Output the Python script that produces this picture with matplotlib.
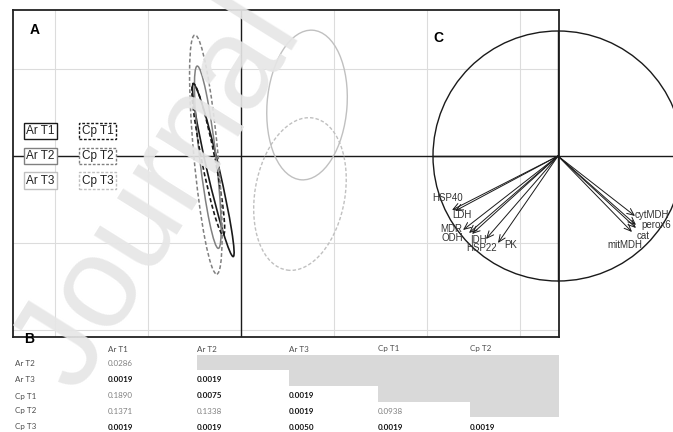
import matplotlib
matplotlib.use("Agg")
import matplotlib.pyplot as plt
from matplotlib.patches import Ellipse, Circle, Rectangle

W, H = 673, 432

# --- Panel A: group ellipses (centre x, centre y, semi-major, semi-minor, tilt deg)
groups = ["Ar T1", "Ar T2", "Ar T3", "Cp T1", "Cp T2", "Cp T3"]
centre_x = [-0.298, -0.357, 0.710, -0.352, -0.378, 0.634]
centre_y = [-0.164, -0.014, 0.586, -0.037, 0.017, -0.437]
semi_major = [1.015, 1.054, 0.862, 0.886, 1.379, 0.885]
semi_minor = [0.066, 0.088, 0.430, 0.072, 0.130, 0.484]
tilt = [12.2, 6.2, -4.0, 10.5, 4.9, -9.0]

# --- Panel C: correlation circle
variables = ["HSP40", "LDH", "MDR", "ODH", "HSP22", "IDH", "PK",
             "cytMDH", "perox6", "cat", "mitMDH"]
load_x = [-0.848, -0.824, -0.760, -0.712, -0.688, -0.576, -0.480,
          0.616, 0.624, 0.624, 0.592]
load_y = [-0.432, -0.440, -0.592, -0.616, -0.624, -0.664, -0.696,
          -0.480, -0.552, -0.576, -0.608]

# --- Panel B: pairwise p-values (lower triangle)
row_names = ["Ar T2", "Ar T3", "Cp T1", "Cp T2", "Cp T3"]
col_names = ["Ar T1", "Ar T2", "Ar T3", "Cp T1", "Cp T2"]
p_values = [
    [0.0286],
    [0.0019, 0.0019],
    [0.1890, 0.0075, 0.0019],
    [0.1371, 0.1338, 0.0019, 0.0938],
    [0.0019, 0.0019, 0.0050, 0.0019, 0.0019],
]
alpha_level = 0.01

colours = ["#1a1a1a", "#808080", "#c0c0c0", "#1a1a1a", "#808080", "#c0c0c0"]
styles = ["-", "-", "-", (0, (2.5, 1.5)), (0, (2.5, 1.5)), (0, (2.5, 1.5))]
widths = [1.2, 1.1, 1.0, 1.2, 1.1, 1.0]

plt.rcParams["font.family"] = ["Liberation Sans", "DejaVu Sans"]


def px_box(x0, y0, x1, y1):
    return [x0 / W, 1 - y1 / H, (x1 - x0) / W, (y1 - y0) / H]


fig = plt.figure(figsize=(W / 100, H / 100), dpi=100)

# ---------------- A ----------------
ax = fig.add_axes(px_box(13, 10, 559, 337))
ax.set_xlim((13 - 241) / 93, (559 - 241) / 93)
ax.set_ylim((156 - 337) / 87, (156 - 10) / 87)
ax.set_xticks([-2, -1, 0, 1, 2, 3])
ax.set_yticks([-2, -1, 0, 1])
ax.grid(True, color="#dcdcdc", lw=0.8)
ax.tick_params(length=0, labelbottom=False, labelleft=False)
for sp in ax.spines.values():
    sp.set_color("#222222")
    sp.set_linewidth(1.3)
ax.axhline(0, color="#1a1a1a", lw=1.0, zorder=2)
ax.axvline(0, color="#1a1a1a", lw=1.0, zorder=2)

for i, g in enumerate(groups):
    ax.add_patch(Ellipse((centre_x[i], centre_y[i]), 2 * semi_minor[i], 2 * semi_major[i],
                         angle=tilt[i], fill=False, edgecolor=colours[i],
                         linestyle=styles[i], lw=widths[i], zorder=3))

# legend boxes
legend_x = [-2.16, -2.16, -2.16, -1.543, -1.543, -1.543]
legend_y = [0.287, 0.0, -0.282, 0.287, 0.0, -0.282]
for i, g in enumerate(groups):
    ax.text(legend_x[i], legend_y[i], g, ha="center", va="center", fontsize=8.5,
            color="#222222", zorder=5,
            bbox=dict(boxstyle="square,pad=0.2", fc="white", ec=colours[i],
                      lw=1.0, linestyle="-" if i < 3 else (0, (2, 1.2))))

# ---------------- C ----------------
axc = fig.add_axes(px_box(433, 31, 683, 281))
axc.set_xlim(-1, 1)
axc.set_ylim(-1, 1)
axc.axis("off")
axc.patch.set_alpha(0)
axc.add_patch(Circle((0, 0), 1, fill=False, edgecolor="#1a1a1a", lw=1.0, clip_on=False))
axc.plot([-1, 1], [0, 0], color="#1a1a1a", lw=1.0, clip_on=False)
axc.plot([0, 0], [-1, 1], color="#1a1a1a", lw=1.0, clip_on=False)
for vx, vy in zip(load_x, load_y):
    axc.annotate("", xy=(vx, vy), xytext=(0, 0),
                 arrowprops=dict(arrowstyle="->,head_length=0.5,head_width=0.22",
                                 lw=0.7, color="#1a1a1a", shrinkA=0, shrinkB=0,
                                 mutation_scale=10),
                 annotation_clip=False)

# label nudges (pixels) relative to each arrow tip
label_dx = [-4, 7, -12, -17, 10, -8, 13, 17, 20, 7, -7]
label_dy = [-12, 4, -1, 5, 14, 1, 2, -1, 0, 8, 13]
for i, v in enumerate(variables):
    tx = (load_x[i] * 125 + label_dx[i]) / 125
    ty = (load_y[i] * 125 - label_dy[i]) / 125
    axc.text(tx, ty, v, ha="center", va="center", fontsize=7, color="#333333",
             clip_on=False)

# ---------------- overlay: B table, panel letters, watermark ----------------
ov = fig.add_axes([0, 0, 1, 1])
ov.set_xlim(0, W)
ov.set_ylim(H, 0)
ov.axis("off")
ov.patch.set_alpha(0)

col_x = [108, 197, 289, 378, 470]
row_y = [364, 380, 396, 411, 427]
head_y = 349
grey_right = 559
grey_top = 355
for i in range(len(row_names) - 1):
    x0 = col_x[i + 1]
    y1 = row_y[i] + 6
    ov.add_patch(Rectangle((x0, grey_top), grey_right - x0, y1 - grey_top,
                           fc="#d9d9d9", ec="none", zorder=1))

tfont = ["Lato", "DejaVu Sans"]
for j, c in enumerate(col_names):
    ov.text(col_x[j], head_y, c, ha="left", va="center", fontsize=5.8,
            color="#4d4d4d", family=tfont)
for i, r in enumerate(row_names):
    ov.text(15, row_y[i], r, ha="left", va="center", fontsize=5.8,
            color="#4d4d4d", family=tfont)
    for j, p in enumerate(p_values[i]):
        sig = p < alpha_level
        ov.text(col_x[j], row_y[i], f"{p:.4f}", ha="left", va="center",
                fontsize=5.8, family=tfont,
                color="#111111" if sig else "#808080",
                fontweight="bold" if sig else "normal")

ov.text(35, 30, "A", fontsize=10, fontweight="bold", ha="center", va="center")
ov.text(438, 38, "C", fontsize=10, fontweight="bold", ha="center", va="center")
ov.text(29, 339, "B", fontsize=10, fontweight="bold", ha="center", va="center")

# "Journal" watermark lying over the figure
ov.text(160, 194, "Journal", rotation=58, rotation_mode="anchor", ha="center",
        va="center", fontsize=94, color="#e6e6e6", alpha=0.92, zorder=10)

fig.savefig("out.png", dpi=100)
